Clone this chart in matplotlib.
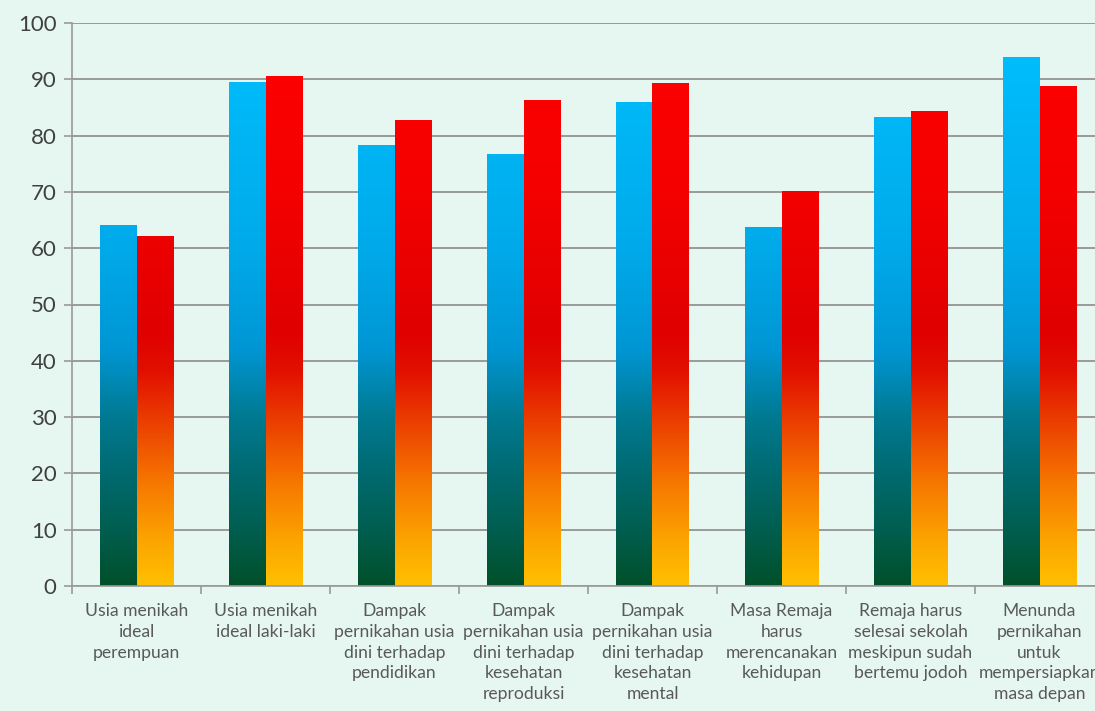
import numpy as np
import matplotlib.pyplot as plt
from matplotlib.colors import LinearSegmentedColormap

categories = [
    "Usia menikah\nideal\nperempuan",
    "Usia menikah\nideal laki-laki",
    "Dampak\npernikahan usia\ndini terhadap\npendidikan",
    "Dampak\npernikahan usia\ndini terhadap\nkesehatan\nreproduksi",
    "Dampak\npernikahan usia\ndini terhadap\nkesehatan\nmental",
    "Masa Remaja\nharus\nmerencanakan\nkehidupan",
    "Remaja harus\nselesai sekolah\nmeskipun sudah\nbertemu jodoh",
    "Menunda\npernikahan\nuntuk\nmempersiapkan\nmasa depan",
]
blue_vals = [64.1, 89.6, 78.4, 76.8, 86.0, 63.8, 83.3, 94.0]
red_vals = [62.1, 90.6, 82.7, 86.3, 89.4, 70.1, 84.3, 88.8]

# gradients run over the value axis (0 at bottom, 100 at top)
blue_cmap = LinearSegmentedColormap.from_list("blue", [
    (0.00, "#00502a"), (0.10, "#005e50"), (0.20, "#006a70"),
    (0.30, "#007a92"), (0.42, "#0096d4"), (0.60, "#00aaea"), (1.00, "#00c0ff")])
red_cmap = LinearSegmentedColormap.from_list("red", [
    (0.00, "#ffc000"), (0.08, "#fca400"), (0.18, "#f67800"),
    (0.28, "#ec4400"), (0.38, "#e21000"), (0.45, "#e00000"),
    (0.70, "#f40000"), (1.00, "#ff0000")])

bg = "#e6f7f1"
fig = plt.figure(figsize=(10.95, 7.11), dpi=100, facecolor=bg)
ax = fig.add_axes([72 / 1095, 125 / 711, 1032 / 1095, 563 / 711])
ax.set_facecolor(bg)

x = np.arange(len(categories))
w = 0.283
grad = np.linspace(0, 1, 256).reshape(-1, 1)

ax.yaxis.grid(True, color="#9a9a9a", linewidth=1.4, zorder=0)
ax.set_axisbelow(True)

for vals, cmap, off in [(blue_vals, blue_cmap, -w / 2), (red_vals, red_cmap, w / 2)]:
    bars = ax.bar(x + off, vals, w, facecolor="none", edgecolor="none", zorder=2)
    for b in bars:
        im = ax.imshow(grad, cmap=cmap, origin="lower", aspect="auto",
                       extent=(-0.5, len(categories) - 0.5, 0, 100), zorder=2)
        im.set_clip_path(b)
ax.set_xlim(-0.5, len(categories) - 0.5)
ax.set_ylim(0, 100)
ax.set_yticks(range(0, 101, 10))

for s in ["top", "right"]:
    ax.spines[s].set_visible(False)
ax.spines["left"].set_color("#999999")
ax.spines["bottom"].set_color("#999999")
ax.spines["left"].set_linewidth(1.2)
ax.spines["bottom"].set_linewidth(1.2)

ax.set_xticks(x)
ax.set_xticklabels(categories, fontsize=12.6, color="#595959", family="Lato",
                   linespacing=1.38, va="top")
ax.set_xticks(np.arange(-0.5, len(categories), 1), minor=True)
ax.tick_params(axis="x", which="major", length=0, pad=12)
ax.tick_params(axis="x", which="minor", length=6, color="#999999", width=1.2)
ax.tick_params(axis="y", length=6, color="#999999", width=1.2, pad=5,
               labelsize=16, labelcolor="#404040")
for t in ax.get_yticklabels():
    t.set_family("Lato")

fig.savefig("out.png", dpi=100, facecolor=bg)
